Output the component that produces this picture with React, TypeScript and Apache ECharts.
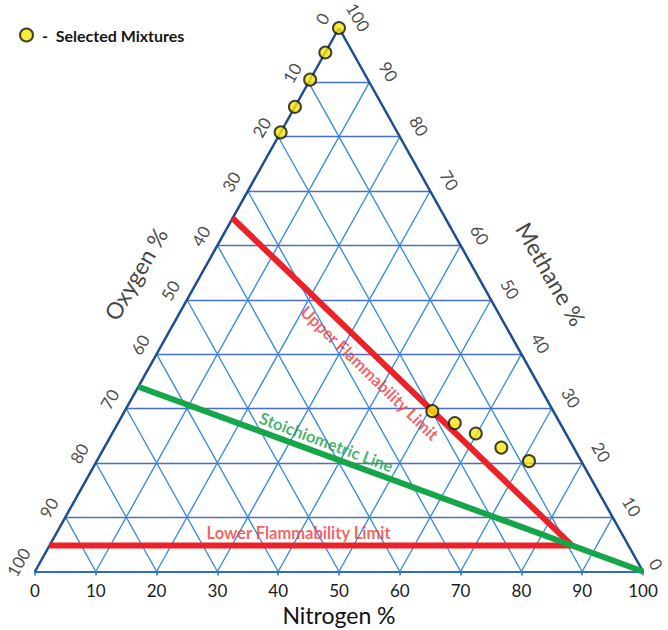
import React, { useEffect, useRef } from "react";
import * as echarts from "echarts";

// ---------- data ----------
const TICKS = [0, 10, 20, 30, 40, 50, 60, 70, 80, 90, 100];
const GRID_STEPS = [10, 20, 30, 40, 50, 60, 70, 80, 90];

// Selected mixtures (nitrogen %, methane %), oxygen = rest
const MIX_N2 = [0, 0, 0, 0, 0, 50.6, 55.4, 59.8, 65.3, 71.1];
const MIX_CH4 = [100, 95.5, 90.5, 85.5, 80.8, 29.5, 27.3, 25.4, 22.8, 20.3];

// Upper flammability limit
const UFL_N2 = [0, 85.9];
const UFL_CH4 = [65, 4.8];
// Lower flammability limit
const LFL_N2 = [0, 85.9];
const LFL_CH4 = [4.8, 4.8];
// Stoichiometric line
const STOICH_N2 = [0, 100];
const STOICH_CH4 = [34, 0];

// ---------- layout ----------
const GRID = { left: 35, top: 28, width: 608, height: 543.5 };
const SX = GRID.width / 100;
const SY = GRID.height / 100;
const FONT = "Lato, 'Open Sans', sans-serif";

const xy = (n2: number, ch4: number): number[] => [n2 + ch4 / 2, ch4];
// shift a data point by a pixel offset (dx right, dy down)
const shift = (p: number[], dx: number, dy: number): number[] => [p[0] + dx / SX, p[1] - dy / SY];

const edgeLen = Math.sqrt((GRID.width / 2) ** 2 + GRID.height ** 2);
const NL = [-GRID.height / edgeLen, -(GRID.width / 2) / edgeLen]; // outward normal, left edge
const NR = [GRID.height / edgeLen, -(GRID.width / 2) / edgeLen]; // outward normal, right edge

function buildOption() {
  const horiz = GRID_STEPS.map((k) => ({ coords: [xy(0, k), xy(100 - k, k)] }));
  const diag: any[] = [];
  GRID_STEPS.forEach((k) => {
    diag.push({ coords: [xy(k, 0), xy(k, 100 - k)] }); // constant nitrogen
    diag.push({ coords: [xy(100 - k, 0), xy(0, 100 - k)] }); // constant oxygen
  });
  const edges = [
    { coords: [xy(0, 0), xy(0, 100)] },
    { coords: [xy(0, 100), xy(100, 0)] },
  ];

  const leftTicks = TICKS.map((o) => ({
    value: shift(xy(0, 100 - o), NL[0] * 19, NL[1] * 19),
    label: { formatter: String(o), rotate: 60 },
  }));
  const rightTicks = TICKS.map((m) => {
    const d = m === 0 ? 15 : 22;
    return {
      value: shift(xy(100 - m, m), NR[0] * d, NR[1] * d),
      label: { formatter: String(m), rotate: -60 },
    };
  });
  const titles = [
    {
      value: shift(xy(0, 49.6), NL[0] * 57.6, NL[1] * 57.6),
      label: { formatter: "Oxygen %", rotate: 60 },
    },
    {
      value: shift(xy(51.1, 48.9), NR[0] * 64.9, NR[1] * 64.9),
      label: { formatter: "Methane %", rotate: -60 },
    },
  ];
  const inline = [
    {
      value: xy(36.8, 36.5),
      label: { formatter: "Upper Flammability Limit", rotate: -44, color: "#ee3c3c" },
    },
    {
      value: xy(36.0, 23.8),
      label: { formatter: "Stoichiometric Line", rotate: -20.5, color: "#17a04a" },
    },
    {
      value: xy(39.8, 7.1),
      label: { formatter: "Lower Flammability Limit", rotate: 0, color: "#ee3c3c" },
    },
  ];

  const labelSeries = (data: any[], z: number, style: any) => ({
    type: "scatter",
    silent: true,
    clip: false,
    symbolSize: 1,
    itemStyle: { color: "rgba(0,0,0,0)" },
    z,
    label: {
      show: true,
      position: "inside",
      align: "center",
      verticalAlign: "middle",
      fontFamily: FONT,
      ...style,
    },
    data,
  });

  return {
    animation: false,
    backgroundColor: "#ffffff",
    grid: { ...GRID, containLabel: false, outerBoundsMode: "none" },
    legend: {
      left: 19,
      top: 27,
      padding: 0,
      itemWidth: 13,
      itemHeight: 13,
      icon: "circle",
      data: ["Selected Mixtures"],
      formatter: "-  {name}",
      textStyle: { fontFamily: FONT, fontSize: 16, fontWeight: "bold", color: "#151515", padding: [0, 0, 0, 4] },
    },
    xAxis: {
      type: "value",
      min: 0,
      max: 100,
      interval: 10,
      position: "bottom",
      axisLine: { show: true, lineStyle: { color: "#2f6cbf", width: 2 } },
      axisTick: { show: true, length: 4, lineStyle: { color: "#2f6cbf", width: 1.5 } },
      splitLine: { show: false },
      axisLabel: { fontFamily: FONT, fontSize: 17, color: "#1a1a1a", margin: 10 },
      name: "Nitrogen %",
      nameLocation: "middle",
      nameGap: 26,
      nameTextStyle: { fontFamily: FONT, fontSize: 23, color: "#111" },
    },
    yAxis: { type: "value", min: 0, max: 100, show: false },
    series: [
      {
        type: "lines",
        coordinateSystem: "cartesian2d",
        silent: true,
        z: 1,
        lineStyle: { color: "#4a6ec8", width: 1.3, opacity: 1 },
        data: horiz,
      },
      {
        type: "lines",
        coordinateSystem: "cartesian2d",
        silent: true,
        z: 1,
        lineStyle: { color: "#3288da", width: 1.3, opacity: 1 },
        data: diag,
      },
      {
        type: "lines",
        coordinateSystem: "cartesian2d",
        silent: true,
        z: 2,
        lineStyle: { color: "#1f4e8c", width: 2.5, opacity: 1 },
        data: edges,
      },
      {
        type: "line",
        silent: true,
        symbol: "none",
        z: 3,
        lineStyle: { color: "#ec2228", width: 6 },
        data: UFL_N2.map((n, i) => xy(n, UFL_CH4[i])),
      },
      {
        type: "line",
        silent: true,
        symbol: "none",
        z: 3,
        lineStyle: { color: "#ec2228", width: 6 },
        data: LFL_N2.map((n, i) => xy(n, LFL_CH4[i])),
      },
      {
        type: "line",
        silent: true,
        symbol: "none",
        z: 4,
        lineStyle: { color: "#16a64a", width: 6 },
        data: STOICH_N2.map((n, i) => xy(n, STOICH_CH4[i])),
      },
      labelSeries(inline, 5, { fontSize: 16.5, fontWeight: "bold" }),
      labelSeries(leftTicks, 5, { fontSize: 17, color: "#1a1a1a" }),
      labelSeries(rightTicks, 5, { fontSize: 17, color: "#1a1a1a" }),
      labelSeries(titles, 5, { fontSize: 23, color: "#111" }),
      {
        type: "scatter",
        name: "Selected Mixtures",
        silent: true,
        clip: false,
        z: 10,
        symbol: "circle",
        symbolSize: 12,
        itemStyle: { color: "#f8e60e", borderColor: "#111111", borderWidth: 2 },
        data: MIX_N2.map((n, i) => xy(n, MIX_CH4[i])),
      },
    ],
  };
}

export default function App() {
  const ref = useRef<HTMLDivElement>(null);
  useEffect(() => {
    if (!ref.current) return;
    const chart = echarts.init(ref.current, undefined, { renderer: "svg" });
    chart.setOption(buildOption() as any);
    return () => chart.dispose();
  }, []);
  return (
    <div
      ref={ref}
      style={{ position: "fixed", left: 0, top: 0, width: 668, height: 630, background: "#fff" }}
    />
  );
}
